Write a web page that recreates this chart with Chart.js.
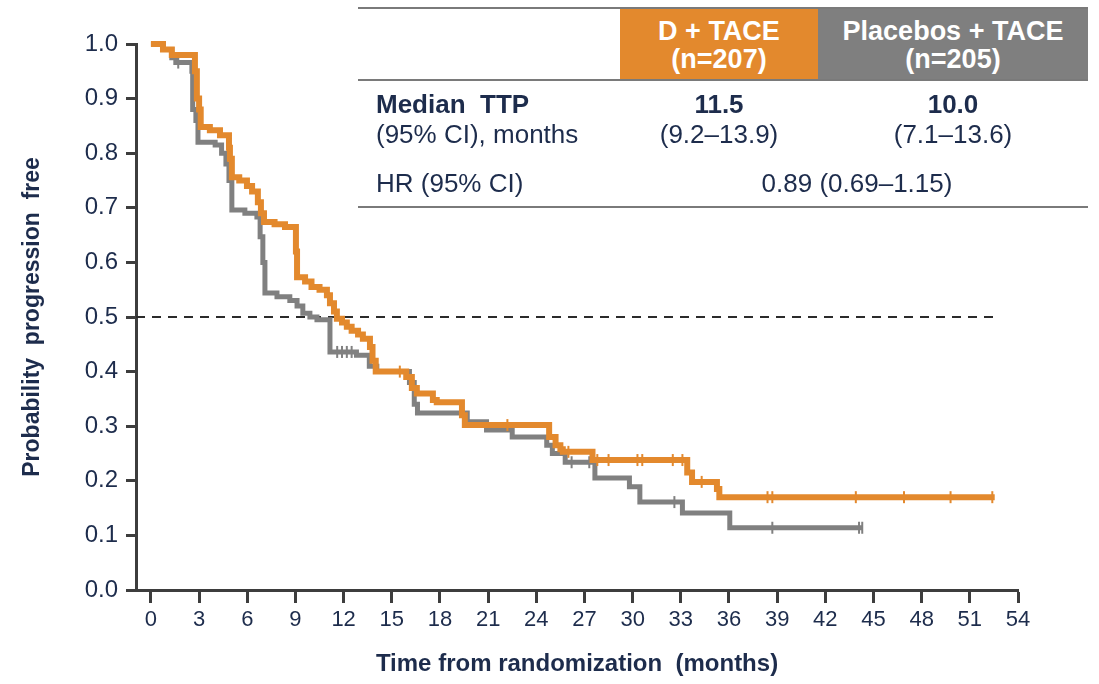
<!DOCTYPE html>
<html>
<head>
<meta charset="utf-8">
<script src="https://cdn.jsdelivr.net/npm/chart.js@4.4.1/dist/chart.umd.min.js"></script>
<style>
  html, body { margin: 0; padding: 0; background: #ffffff; }
  #wrap { position: relative; width: 1099px; height: 684px; font-family: "Liberation Sans", Arial, sans-serif; color: #1d2c4c; }
  #km { position: absolute; left: 0; top: 0; }
  .rule { position: absolute; left: 358px; width: 730px; height: 2px; background: #7a7a7a; }
  .head { position: absolute; top: 9px; height: 71px; color: #ffffff; font-weight: bold; font-size: 27px; line-height: 28px; text-align: center; display: flex; flex-direction: column; justify-content: center; }
  .cell { position: absolute; font-size: 26px; line-height: 30px; white-space: nowrap; }
  .ctr { text-align: center; width: 260px; }
  b { font-weight: bold; }
</style>
</head>
<body>
<div id="wrap">
  <canvas id="km" width="1099" height="684"></canvas>

  <div class="rule" style="top:7px"></div>
  <div class="head" style="left:620px; width:198px; background:#e3892d;"><div>D + TACE</div><div>(n=207)</div></div>
  <div class="head" style="left:818px; width:270px; background:#7f7f7f;"><div>Placebos + TACE</div><div>(n=205)</div></div>
  <div class="rule" style="top:79px"></div>

  <div class="cell" style="left:376px; top:89px;"><b>Median&nbsp; TTP</b></div>
  <div class="cell" style="left:376px; top:119px;">(95% CI), months</div>
  <div class="cell ctr" style="left:589px; top:89px;"><b>11.5</b></div>
  <div class="cell ctr" style="left:589px; top:119px;">(9.2–13.9)</div>
  <div class="cell ctr" style="left:823px; top:89px;"><b>10.0</b></div>
  <div class="cell ctr" style="left:823px; top:119px;">(7.1–13.6)</div>
  <div class="cell" style="left:376px; top:168px;">HR (95% CI)</div>
  <div class="cell ctr" style="left:727px; top:168px;">0.89 (0.69–1.15)</div>
  <div class="rule" style="top:206px"></div>
</div>

<script>
// Kaplan–Meier time to progression, months / probability progression free
const dTimes = [0, 0.75, 1.3, 2.74, 2.86, 3.0, 3.1, 3.67, 4.3, 4.86, 4.92, 5.04, 5.5, 5.98, 6.3, 6.66, 6.85, 7.04, 7.7, 8.35, 9.03, 9.1, 9.6, 10.0, 10.5, 10.96, 11.15, 11.4, 11.58, 11.9, 12.2, 12.5, 12.9, 13.2, 13.64, 13.8, 14.0, 15.9, 16.25, 16.56, 17.56, 17.8, 19.37, 19.55, 24.8, 25.2, 25.5, 25.65, 27.5, 33.4, 33.7, 35.25, 35.4, 52.55];
const dSurv  = [1.0, 0.99, 0.98, 0.95, 0.90, 0.88, 0.848, 0.842, 0.833, 0.81, 0.79, 0.756, 0.75, 0.74, 0.73, 0.71, 0.69, 0.674, 0.67, 0.665, 0.62, 0.573, 0.565, 0.555, 0.55, 0.54, 0.525, 0.51, 0.497, 0.49, 0.482, 0.475, 0.468, 0.46, 0.445, 0.42, 0.40, 0.39, 0.37, 0.36, 0.348, 0.344, 0.32, 0.302, 0.28, 0.265, 0.258, 0.253, 0.238, 0.215, 0.198, 0.185, 0.17, 0.17];
const dCensored = [15.5, 22.2, 26.0, 27.8, 28.5, 30.3, 30.6, 32.5, 33.1, 34.3, 38.4, 38.7, 43.9, 46.9, 49.8, 52.4];

const pTimes = [0, 0.75, 1.3, 1.55, 2.55, 2.6, 2.8, 2.93, 4.0, 4.4, 4.67, 4.86, 5.04, 5.85, 6.6, 6.8, 6.97, 7.1, 7.85, 8.65, 9.1, 9.46, 9.9, 10.34, 11.15, 12.8, 13.6, 14.07, 16.1, 16.4, 16.6, 19.7, 20.9, 22.5, 24.65, 25.0, 25.8, 27.65, 29.8, 30.45, 33.1, 36.05, 44.3];
const pSurv  = [1.0, 0.99, 0.975, 0.966, 0.95, 0.88, 0.86, 0.82, 0.815, 0.80, 0.78, 0.75, 0.696, 0.69, 0.683, 0.647, 0.60, 0.544, 0.537, 0.53, 0.52, 0.507, 0.50, 0.495, 0.436, 0.43, 0.41, 0.40, 0.38, 0.34, 0.324, 0.308, 0.293, 0.28, 0.265, 0.25, 0.234, 0.205, 0.189, 0.161, 0.141, 0.114, 0.114];
const pCensored = [1.7, 11.6, 11.9, 12.2, 12.5, 26.2, 27.3, 32.6, 38.7, 44.1, 44.3];

const xTicks = [0, 3, 6, 9, 12, 15, 18, 21, 24, 27, 30, 33, 36, 39, 42, 45, 48, 51, 54];
const yTicks = [0, 0.1, 0.2, 0.3, 0.4, 0.5, 0.6, 0.7, 0.8, 0.9, 1.0];
const medianLevel = 0.5;
const medianLineEnd = 52.7;

const ORANGE = '#e3892d';
const GREY = '#808080';
const NAVY = '#1d2c4c';
const AXIS = '#3d3d3d';

const pairs = (xs, ys) => xs.map((x, i) => ({ x, y: ys[i] }));
// survival value at time t from a step curve
const stepValue = (xs, ys, t) => {
  let v = ys[0];
  for (let i = 0; i < xs.length; i++) { if (xs[i] <= t) v = ys[i]; }
  return v;
};
const censorPoints = (cs, xs, ys) => cs.map(t => ({ x: t, y: stepValue(xs, ys, t) }));

const curve = (label, data, color, width, order) => ({
  label, data, borderColor: color, backgroundColor: color, borderWidth: width,
  stepped: true, pointRadius: 0, fill: false, clip: false, order
});
const ticks = (data, color, order) => ({
  data, showLine: false, pointStyle: 'line', rotation: 90, pointRadius: 6,
  pointBorderWidth: 2, borderColor: color, backgroundColor: color, clip: false, order
});

new Chart(document.getElementById('km'), {
  type: 'line',
  data: {
    datasets: [
      ticks(censorPoints(dCensored, dTimes, dSurv), ORANGE, 0),
      curve('D + TACE', pairs(dTimes, dSurv), ORANGE, 6, 1),
      ticks(censorPoints(pCensored, pTimes, pSurv), GREY, 2),
      curve('Placebos + TACE', pairs(pTimes, pSurv), GREY, 5, 3),
      {
        data: [{ x: -0.93, y: medianLevel }, { x: medianLineEnd, y: medianLevel }],
        borderColor: '#2b2b2b', borderWidth: 2, borderDash: [9, 7], pointRadius: 0, order: 4
      }
    ]
  },
  options: {
    responsive: false,
    animation: false,
    events: [],
    layout: { padding: { top: 44, right: 81, left: 0, bottom: 0 } },
    plugins: { legend: { display: false }, tooltip: { enabled: false } },
    scales: {
      x: {
        type: 'linear', min: -0.93, max: 54,
        afterBuildTicks: s => { s.ticks = xTicks.map(v => ({ value: v })); },
        afterFit: s => { s.height = 94; },
        border: { display: true, color: AXIS, width: 3 },
        grid: { drawOnChartArea: false, drawTicks: true, tickLength: 13, tickWidth: 3, tickColor: AXIS },
        ticks: { color: NAVY, padding: 4, maxRotation: 0, autoSkip: false,
                 font: { family: 'Liberation Sans', size: 22 }, callback: v => String(v) },
        title: { display: true, text: 'Time from randomization  (months)', color: NAVY,
                 font: { family: 'Liberation Sans', size: 24, weight: 'bold' }, padding: { top: 0, bottom: 5 } }
      },
      y: {
        type: 'linear', min: 0, max: 1,
        afterBuildTicks: s => { s.ticks = yTicks.map(v => ({ value: v })); },
        afterFit: s => { s.width = 136; },
        border: { display: true, color: AXIS, width: 3 },
        grid: { drawOnChartArea: false, drawTicks: true, tickLength: 10, tickWidth: 3, tickColor: AXIS },
        ticks: { color: NAVY, padding: 8, autoSkip: false,
                 font: { family: 'Liberation Sans', size: 24 }, callback: v => Number(v).toFixed(1) },
        title: { display: true, text: 'Probability  progression  free', color: NAVY,
                 font: { family: 'Liberation Sans', size: 23, weight: 'bold' }, padding: { top: 19, bottom: 0 } }
      }
    }
  }
});
</script>
</body>
</html>
